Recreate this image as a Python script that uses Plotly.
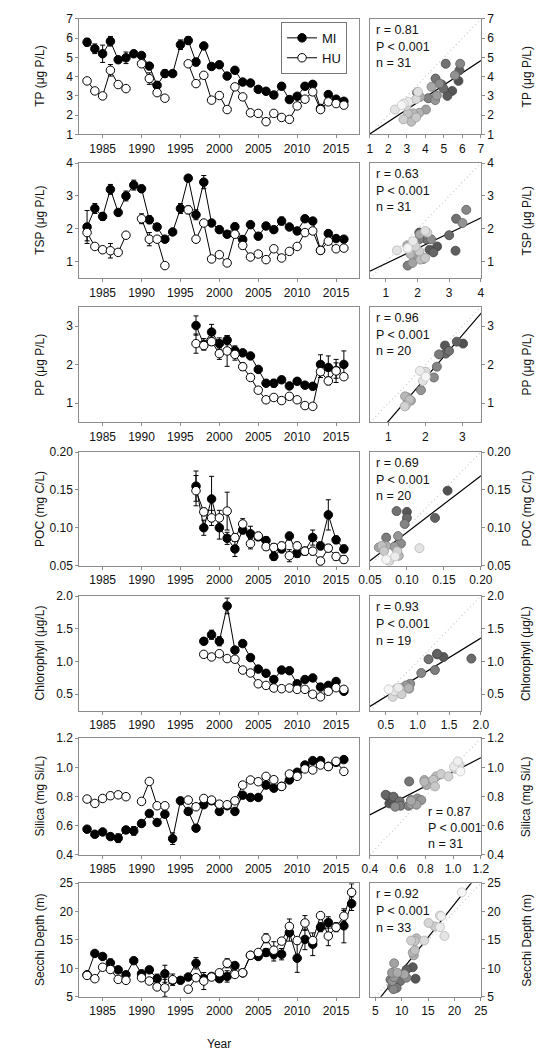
import plotly.graph_objects as go
import numpy as np

# ---------------- data ----------------
years = list(range(1983, 2017))
years_secchi = list(range(1983, 2018))
years_pp = list(range(1997, 2017))
years_chl = list(range(1998, 2017))

tp_mi = [5.79, 5.45, 5.19, 5.84, 4.88, 4.98, 5.19, 5.10, 4.55, 3.55,
         4.16, 4.16, 5.66, 5.88, 4.76, 5.60, 4.53, 4.62, 4.03, 4.33,
         3.72, 3.67, 3.34, 3.24, 3.05, 3.50, 2.81, 2.98, 3.50, 3.60,
         2.35, 3.07, 2.83, 2.72]
tp_hu = [3.78, 3.26, 3.00, 4.33, 3.59, 3.38, None, 4.67, 3.90, 3.17,
         2.88, None, None, 4.67, 3.64, 4.07, 2.78, 3.02, 2.29, 3.47,
         2.95, 2.12, 2.09, 1.66, 2.09, 1.88, 1.78, 2.48, 2.83, 3.21,
         2.29, 2.69, 2.60, 2.52]
tp_mi_err = [0.2, 0.25, 0.45, 0.25, 0.1, 0.3, 0, 0.1, 0.15, 0.15,
             0.2, 0.1, 0.25, 0.2, 0.2, 0.1, 0.1, 0.15, 0.1, 0.1,
             0.1, 0.05, 0.05, 0.05, 0.05, 0.1, 0.05, 0.05, 0.1, 0.1,
             0.1, 0.1, 0.1, 0.1]
tp_hu_err = [0.1, 0.05, 0.05, 0.3, 0.15, 0.1, 0, 0.1, 0.3, 0.1,
             0.1, 0, 0, 0.1, 0.1, 0.1, 0.1, 0.1, 0.1, 0.15,
             0.05, 0.05, 0.05, 0.05, 0.05, 0.05, 0.05, 0.05, 0.05, 0.05,
             0.05, 0.05, 0.05, 0.05]

tsp_mi = [2.06, 2.62, 2.38, 3.20, 2.50, 3.00, 3.33, 3.22, 2.28, 2.06,
          1.69, 1.91, 2.62, 3.54, 2.43, 3.42, 2.18, 1.98, 1.84, 2.07,
          1.68, 2.13, 1.78, 2.09, 1.98, 2.24, 2.06, 1.94, 2.31, 2.24,
          1.35, 1.86, 1.71, 1.69]
tsp_hu = [1.89, 1.47, 1.37, 1.34, 1.29, 1.81, None, 2.31, 1.69, 1.69,
          0.89, None, None, 2.58, 1.69, 2.18, 1.09, 1.22, 0.97, 1.84,
          1.50, 1.15, 1.24, 1.07, 1.40, 1.12, 1.32, 1.47, 1.89, 1.94,
          1.35, 1.63, 1.40, 1.42]
tsp_mi_err = [0.5, 0.15, 0.12, 0.15, 0.08, 0.15, 0.15, 0.1, 0.12, 0.08,
              0.08, 0.05, 0.15, 0.05, 0.15, 0.2, 0.05, 0.1, 0.08, 0.1,
              0.05, 0.05, 0.05, 0.05, 0.05, 0.12, 0.05, 0.1, 0.08, 0.1,
              0.05, 0.08, 0.05, 0.05]
tsp_hu_err = [0.25, 0.05, 0.05, 0.22, 0.05, 0.05, 0, 0.15, 0.2, 0.05,
              0.05, 0, 0, 0.12, 0.05, 0.05, 0.05, 0.05, 0.05, 0.05,
              0.05, 0.05, 0.05, 0.05, 0.05, 0.05, 0.05, 0.05, 0.05, 0.05,
              0.05, 0.05, 0.05, 0.05]

pp_mi = [3.02, 2.53, 2.85, 2.55, 2.64, 2.37, 2.31, 2.23, 1.88, 1.52,
         1.52, 1.61, 1.45, 1.57, 1.47, 1.44, 2.01, 1.93, 1.85, 2.01]
pp_hu = [2.55, 2.50, 2.60, 2.29, 2.36, 2.27, 1.95, 1.67, 1.34, 1.09,
         1.15, 1.07, 1.18, 1.09, 0.94, 0.92, 1.82, 1.58, 1.84, 1.69]
pp_mi_err = [0.25, 0.15, 0.2, 0.15, 0.12, 0.12, 0.05, 0.05, 0.05, 0.05,
             0.1, 0.07, 0.05, 0.05, 0.05, 0.05, 0.25, 0.3, 0.2, 0.35]
pp_hu_err = [0.25, 0.1, 0.1, 0.15, 0.4, 0.15, 0.1, 0.05, 0.05, 0.05,
             0.05, 0.05, 0.05, 0.05, 0.03, 0.03, 0.15, 0.1, 0.3, 0.05]

poc_mi = [0.155, 0.100, 0.138, 0.100, 0.086, 0.072, 0.097, 0.092, 0.088, 0.083,
          0.062, 0.072, 0.089, 0.066, 0.069, 0.087, 0.076, 0.117, 0.084, 0.072]
poc_hu = [0.149, 0.121, 0.113, 0.113, 0.122, 0.087, 0.105, 0.079, 0.089, 0.075,
          0.074, 0.076, 0.063, 0.076, 0.069, 0.069, 0.056, 0.073, 0.062, 0.058]
poc_mi_err = [0.02, 0.01, 0.03, 0.015, 0.008, 0.01, 0.005, 0.01, 0.005, 0.005,
              0.005, 0.005, 0.005, 0.005, 0.005, 0.01, 0.005, 0.02, 0.005, 0.005]
poc_hu_err = [0.02, 0.005, 0.01, 0.01, 0.025, 0.005, 0.007, 0.007, 0.005, 0.005,
              0.005, 0.005, 0.008, 0.005, 0.005, 0.005, 0.005, 0.005, 0.005, 0.005]

chl_mi = [1.31, 1.41, 1.31, 1.85, 1.175, 1.275, 1.06, 0.885, 0.82, 0.725,
          0.87, 0.86, 0.66, 0.725, 0.75, 0.61, 0.635, 0.695, 0.545]
chl_hu = [1.11, 1.07, 1.12, 1.045, 1.035, 0.87, 0.825, 0.66, 0.635, 0.595,
          0.585, 0.595, 0.575, 0.575, 0.50, 0.46, 0.545, 0.60, 0.575]
chl_mi_err = [0.05, 0.07, 0.07, 0.12, 0.02, 0.02, 0.02, 0.02, 0.02, 0.02,
              0.02, 0.02, 0.02, 0.02, 0.02, 0.02, 0.02, 0.02, 0.02]
chl_hu_err = [0.01] * 19

si_mi = [0.575, 0.54, 0.556, 0.524, 0.513, 0.57, 0.563, 0.614, 0.683, 0.621,
         0.678, 0.51, 0.77, 0.697, 0.582, 0.743, 0.77, 0.697, 0.736, 0.697,
         0.809, 0.793, 0.793, 0.878, 0.857, 0.869, 0.913, 0.966, 1.016, 1.046,
         1.046, 1.007, 1.034, 1.053]
si_hu = [0.782, 0.752, 0.786, 0.805, 0.811, 0.798, None, 0.766, 0.903, 0.736,
         0.736, None, None, 0.775, 0.729, 0.786, 0.775, 0.747, 0.743, 0.770,
         0.878, 0.913, 0.901, 0.938, 0.915, 0.869, 0.954, 0.938, 0.989, 0.982,
         1.016, 1.005, 1.041, 0.972]
si_mi_err = [0.01, 0.01, 0.01, 0.01, 0.03, 0.01, 0.03, 0.01, 0.01, 0.01,
             0.01, 0.04, 0.01, 0.01, 0.01, 0.01, 0.01, 0.01, 0.01, 0.01,
             0.01, 0.01, 0.01, 0.01, 0.01, 0.01, 0.01, 0.01, 0.01, 0.01,
             0.01, 0.01, 0.01, 0.01]
si_hu_err = [0.01] * 34

sec_mi = [8.87, 12.63, 12.1, 10.95, 9.74, 8.87, 11.36, 9.05, 9.74, 8.18,
          9.05, 7.89, 7.89, 8.47, 10.9, 8.2, 8.58, 8.18, 8.58, 10.5,
          9.2, 12.3, 12.1, 12.8, 12.5, 12.5, 16.3, 11.8, 15.1, 14.25,
          17.25, 18.1, 17.25, 17.5, 21.4]
sec_hu = [8.76, 8.18, 10.2, 9.8, 8.06, 7.89, None, 8.35, 7.77, 6.73,
          6.56, 8.0, None, 6.33, 8.35, 7.77, 8.47, 9.22, 10.9, 8.93,
          9.22, 12.3, 12.8, 15.3, 13.2, 14.8, 17.4, 14.9, 18.0, 14.9,
          19.3, 15.7, 17.25, 19.2, 23.4]
sec_mi_err = [0.5, 0.3, 0.3, 0.7, 0.3, 0.3, 0.3, 0.3, 0.3, 0.8,
              1.5, 0.3, 0.3, 0.3, 1.0, 0.3, 0.3, 0.3, 1.0, 0.5,
              0.3, 0.3, 0.3, 0.7, 1.2, 1.0, 1.5, 2.5, 1.8, 2.0,
              0.8, 1.0, 0.8, 3.0, 1.2]
sec_hu_err = [0.3, 0.3, 0.5, 0.3, 0.3, 0.3, 0, 0.3, 0.3, 0.3,
              1.5, 1.0, 0, 0.3, 0.3, 1.5, 0.3, 0.3, 0.8, 0.3,
              0.3, 0.3, 0.3, 0.8, 1.5, 0.3, 1.3, 0.3, 1.3, 0.3,
              0.5, 1.7, 0.3, 1.0, 1.5]

titles = ["TP (μg P/L)", "TSP (μg P/L)", "PP (μg P/L)", "POC (mg C/L)",
          "Chlorophyll (μg/L)", "Silica (mg Si/L)", "Secchi Depth (m)"]
stat_r = ["0.81", "0.63", "0.96", "0.69", "0.93", "0.87", "0.92"]
stat_n = ["31", "31", "20", "20", "19", "31", "33"]
year_ticks = [1985, 1990, 1995, 2000, 2005, 2010, 2015]

# ---------------- layout helpers ----------------
W, H = 547, 1050
FONT = "Arial, Liberation Sans, sans-serif"
AXC = "#8c8c8c"

def px(p):
    return p / W

def py(p):
    return 1 - p / H

rows = [
    dict(yrs=years, mi=tp_mi, hu=tp_hu, me=tp_mi_err, he=tp_hu_err,
         rng=[1, 7], ticks=[1, 2, 3, 4, 5, 6, 7], fmt="", top=4, bot=121,
         xr=[1, 7]),
    dict(yrs=years, mi=tsp_mi, hu=tsp_hu, me=tsp_mi_err, he=tsp_hu_err,
         rng=[0.5, 4], ticks=[1, 2, 3, 4], fmt="", top=150, bot=267,
         xr=[0.5, 4]),
    dict(yrs=years_pp, mi=pp_mi, hu=pp_hu, me=pp_mi_err, he=pp_hu_err,
         rng=[0.5, 3.5], ticks=[1, 2, 3], fmt="", top=296, bot=413,
         xr=[0.5, 3.5]),
    dict(yrs=years_pp, mi=poc_mi, hu=poc_hu, me=poc_mi_err, he=poc_hu_err,
         rng=[0.05, 0.20], ticks=[0.05, 0.10, 0.15, 0.20], fmt=".2f", top=443, bot=558,
         xr=[0.05, 0.20]),
    dict(yrs=years_chl, mi=chl_mi, hu=chl_hu, me=chl_mi_err, he=chl_hu_err,
         rng=[0.25, 2.0], ticks=[0.5, 1.0, 1.5, 2.0], fmt=".1f", top=589, bot=705,
         xr=[0.25, 2.0]),
    dict(yrs=years, mi=si_mi, hu=si_hu, me=si_mi_err, he=si_hu_err,
         rng=[0.4, 1.2], ticks=[0.4, 0.6, 0.8, 1.0, 1.2], fmt=".1f", top=733, bot=851,
         xr=[0.4, 1.2]),
    dict(yrs=years_secchi, mi=sec_mi, hu=sec_hu, me=sec_mi_err, he=sec_hu_err,
         rng=[5, 25], ticks=[5, 10, 15, 20, 25], fmt="", top=880, bot=995,
         xr=[4, 25]),
]

fig = go.Figure()
layout = dict(
    width=W, height=H, margin=dict(l=0, r=0, t=0, b=0),
    paper_bgcolor="white", plot_bgcolor="white",
    font=dict(family=FONT, size=12, color="#111"),
    showlegend=True,
    legend=dict(x=px(273), y=py(7), xanchor="left", yanchor="top",
                bordercolor="#777", borderwidth=1, bgcolor="white",
                font=dict(size=13, family=FONT), tracegroupgap=0,
                itemwidth=30),
)
annotations = []

for i, r in enumerate(rows):
    nt, ns = 2 * i + 1, 2 * i + 2
    xt = "x" if nt == 1 else f"x{nt}"
    yt = "y" if nt == 1 else f"y{nt}"
    xs, ys = f"x{ns}", f"y{ns}"
    ydom = [py(r["bot"]), py(r["top"])]

    common = dict(showgrid=False, zeroline=False, showline=True, linecolor=AXC,
                  linewidth=1, mirror=True, ticks="outside", ticklen=3,
                  tickcolor=AXC, tickfont=dict(size=12, family=FONT, color="#111"))

    layout["xaxis" if nt == 1 else f"xaxis{nt}"] = dict(
        domain=[px(62), px(355)], anchor=yt, range=[1982, 2018],
        tickvals=year_ticks, **common)
    layout["yaxis" if nt == 1 else f"yaxis{nt}"] = dict(
        domain=ydom, anchor=xt, range=r["rng"], tickvals=r["ticks"],
        tickformat=r["fmt"], **common)
    layout[f"xaxis{ns}"] = dict(
        domain=[px(366), px(482)], anchor=ys, range=r["xr"],
        tickvals=[t for t in r["ticks"] if r["xr"][0] <= t <= r["xr"][1]],
        tickformat=r["fmt"], **common)
    layout[f"yaxis{ns}"] = dict(
        domain=ydom, anchor=xs, range=r["rng"], tickvals=r["ticks"],
        tickformat=r["fmt"], side="right", **common)

    # time series
    for name, vals, err, fill in [("MI", r["mi"], r["me"], "black"),
                                  ("HU", r["hu"], r["he"], "white")]:
        fig.add_trace(go.Scatter(
            x=r["yrs"], y=vals, mode="lines+markers", name=name,
            showlegend=(i == 0), xaxis=xt, yaxis=yt, connectgaps=False,
            line=dict(color="black", width=1),
            marker=dict(size=8.5, color=fill, line=dict(color="black", width=1)),
            error_y=dict(type="data", array=err, color="black", thickness=1, width=2.5),
            cliponaxis=False,
        ))

    # scatter HU vs MI
    pairs = [(y, a, b) for y, a, b in zip(r["yrs"], r["mi"], r["hu"])
             if a is not None and b is not None]
    n = len(pairs)
    xv = np.array([p[1] for p in pairs])
    yv = np.array([p[2] for p in pairs])
    lo, hi = r["xr"][0], r["xr"][1]
    # 1:1 line
    fig.add_trace(go.Scatter(x=[min(lo, r["rng"][0]), max(hi, r["rng"][1])],
                             y=[min(lo, r["rng"][0]), max(hi, r["rng"][1])],
                             mode="lines", xaxis=xs, yaxis=ys, showlegend=False,
                             line=dict(color="#c8c8c8", width=1.2, dash="1px,3px")))
    # regression line
    k, b0 = np.polyfit(xv, yv, 1)
    xl = np.array([lo - (hi - lo), hi + (hi - lo)])
    fig.add_trace(go.Scatter(x=xl, y=k * xl + b0, mode="lines", xaxis=xs, yaxis=ys,
                             showlegend=False, line=dict(color="black", width=1.2)))
    grays = [int(80 + (245 - 80) * j / max(n - 1, 1)) for j in range(n)]
    fills = [f"rgb({g},{g},{g})" for g in grays]
    edges = [f"rgb({max(g - 45, 70)},{max(g - 45, 70)},{max(g - 45, 70)})" for g in grays]
    fig.add_trace(go.Scatter(x=xv, y=yv, mode="markers", xaxis=xs, yaxis=ys,
                             showlegend=False,
                             marker=dict(size=9, color=fills,
                                         line=dict(color=edges, width=0.8))))

    # stats text
    txts = [f"r = {stat_r[i]}", "P < 0.001", f"n = {stat_n[i]}"]
    if i == 5:
        xpos, ypos = 425, [808, 824, 840]
    else:
        xpos = 370
        ypos = [r["top"] + 11, r["top"] + 28, r["top"] + 45]
    for t, yy in zip(txts, ypos):
        annotations.append(dict(text=t, x=px(xpos), y=py(yy), xref="paper", yref="paper",
                                xanchor="left", yanchor="middle", showarrow=False,
                                font=dict(size=12.5, family=FONT, color="#111")))

    # y titles
    yc = (r["top"] + r["bot"]) / 2
    for xp in (21, 530):
        annotations.append(dict(text=titles[i], x=px(xp), y=py(yc), xref="paper",
                                yref="paper", xanchor="center", yanchor="middle",
                                textangle=-90, showarrow=False,
                                font=dict(size=12, family=FONT, color="#111")))

annotations.append(dict(text="Year", x=px(208), y=py(1043), xref="paper", yref="paper",
                        xanchor="center", yanchor="middle", showarrow=False,
                        font=dict(size=12, family=FONT, color="#111")))
layout["annotations"] = annotations
fig.update_layout(**layout)
fig.write_html("out.html")
